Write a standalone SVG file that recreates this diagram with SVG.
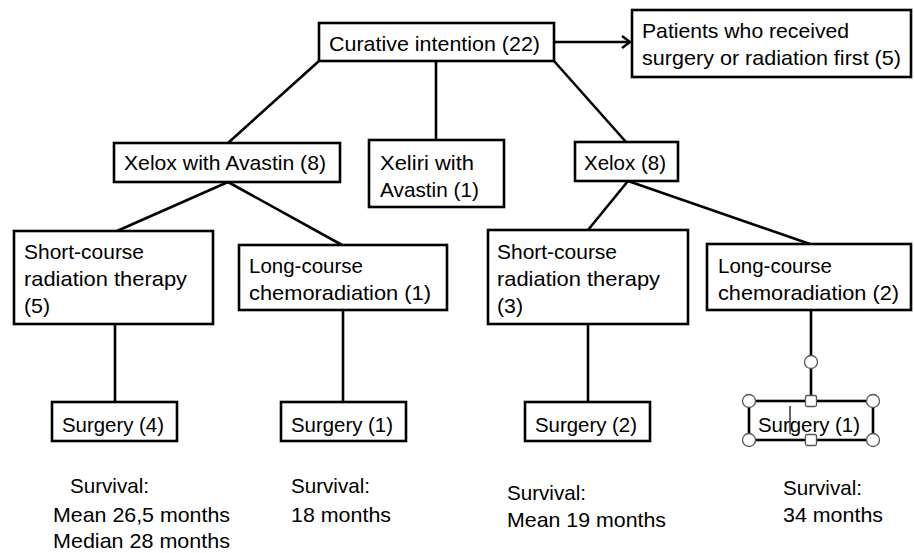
<svg xmlns="http://www.w3.org/2000/svg" width="914" height="553" viewBox="0 0 914 553">
<style>
.box{fill:#fff;stroke:#000;stroke-width:2.6}
.t{font-family:"Liberation Sans",Arial,sans-serif;font-size:21px;fill:#000}
.c{stroke:#000;stroke-width:2.6;fill:none}
.h{fill:#fff;stroke:#555;stroke-width:1.3}
</style>
<defs>
<marker id="arr" markerWidth="12" markerHeight="14" refX="9" refY="7" orient="auto" markerUnits="userSpaceOnUse">
<path d="M1,1 L9,7 L1,13" fill="none" stroke="#000" stroke-width="2.4"/>
</marker>
</defs>
<rect width="914" height="553" fill="#fff"/>
<g id="connectors">
<line class="c" x1="554" y1="42" x2="630" y2="42" marker-end="url(#arr)"/>
<line class="c" x1="319" y1="61" x2="228" y2="143"/>
<line class="c" x1="436" y1="61" x2="436" y2="140"/>
<line class="c" x1="554" y1="61" x2="626" y2="142"/>
<line class="c" x1="228" y1="182" x2="117" y2="231"/>
<line class="c" x1="228" y1="182" x2="342" y2="245"/>
<line class="c" x1="628" y1="181" x2="588" y2="230"/>
<line class="c" x1="628" y1="181" x2="810" y2="244"/>
<line class="c" x1="115" y1="324" x2="115" y2="402"/>
<line class="c" x1="343" y1="310" x2="343" y2="402"/>
<line class="c" x1="588" y1="324" x2="588" y2="402"/>
<line class="c" x1="811" y1="310" x2="811" y2="401"/>
</g>
<g id="curative">
<rect class="box" x="319" y="23" width="235" height="38"/>
<text class="t" x="329" y="51" textLength="211" lengthAdjust="spacingAndGlyphs">Curative intention (22)</text>
</g>
<g id="patients">
<rect class="box" x="632" y="10" width="279" height="67"/>
<text class="t" x="642" y="38" textLength="207" lengthAdjust="spacingAndGlyphs">Patients who received</text>
<text class="t" x="642" y="65" textLength="259" lengthAdjust="spacingAndGlyphs">surgery or radiation first (5)</text>
</g>
<g id="xelox-avastin">
<rect class="box" x="114" y="143" width="226" height="39"/>
<text class="t" x="124" y="170" textLength="202" lengthAdjust="spacingAndGlyphs">Xelox with Avastin (8)</text>
</g>
<g id="xeliri">
<rect class="box" x="369" y="140" width="135" height="67"/>
<text class="t" x="380" y="170" textLength="94" lengthAdjust="spacingAndGlyphs">Xeliri with</text>
<text class="t" x="380" y="197" textLength="99" lengthAdjust="spacingAndGlyphs">Avastin (1)</text>
</g>
<g id="xelox">
<rect class="box" x="575" y="142" width="103" height="39"/>
<text class="t" x="584" y="170" textLength="82" lengthAdjust="spacingAndGlyphs">Xelox (8)</text>
</g>
<g id="short-left">
<rect class="box" x="14" y="231" width="199" height="93"/>
<text class="t" x="24" y="259" textLength="120" lengthAdjust="spacingAndGlyphs">Short-course</text>
<text class="t" x="24" y="286" textLength="163" lengthAdjust="spacingAndGlyphs">radiation therapy</text>
<text class="t" x="24" y="313" textLength="26" lengthAdjust="spacingAndGlyphs">(5)</text>
</g>
<g id="long-left">
<rect class="box" x="239" y="245" width="208" height="65"/>
<text class="t" x="249" y="273" textLength="114" lengthAdjust="spacingAndGlyphs">Long-course</text>
<text class="t" x="249" y="300" textLength="182" lengthAdjust="spacingAndGlyphs">chemoradiation (1)</text>
</g>
<g id="short-right">
<rect class="box" x="488" y="230" width="200" height="94"/>
<text class="t" x="497" y="259" textLength="120" lengthAdjust="spacingAndGlyphs">Short-course</text>
<text class="t" x="497" y="286" textLength="163" lengthAdjust="spacingAndGlyphs">radiation therapy</text>
<text class="t" x="497" y="313" textLength="26" lengthAdjust="spacingAndGlyphs">(3)</text>
</g>
<g id="long-right">
<rect class="box" x="707" y="244" width="204" height="66"/>
<text class="t" x="718" y="273" textLength="114" lengthAdjust="spacingAndGlyphs">Long-course</text>
<text class="t" x="718" y="300" textLength="181" lengthAdjust="spacingAndGlyphs">chemoradiation (2)</text>
</g>
<g id="surgery-4">
<rect class="box" x="52" y="402" width="125" height="39"/>
<text class="t" x="62" y="432" textLength="102" lengthAdjust="spacingAndGlyphs">Surgery (4)</text>
</g>
<g id="surgery-1a">
<rect class="box" x="281" y="402" width="125" height="39"/>
<text class="t" x="291" y="432" textLength="102" lengthAdjust="spacingAndGlyphs">Surgery (1)</text>
</g>
<g id="surgery-2">
<rect class="box" x="525" y="402" width="125" height="39"/>
<text class="t" x="535" y="432" textLength="102" lengthAdjust="spacingAndGlyphs">Surgery (2)</text>
</g>
<g id="surgery-1b">
<rect class="box" x="749" y="401" width="124" height="39"/>
<text class="t" x="758" y="432" textLength="102" lengthAdjust="spacingAndGlyphs">Surgery (1)</text>
<line x1="790" y1="406" x2="790" y2="434" stroke="#000" stroke-width="1.2"/>
<circle class="h" cx="811" cy="362" r="6.5"/>
<circle class="h" cx="749" cy="401" r="6.5"/>
<circle class="h" cx="873" cy="401" r="6.5"/>
<circle class="h" cx="749" cy="440" r="6.5"/>
<circle class="h" cx="873" cy="440" r="6.5"/>
<rect class="h" x="805.5" y="395.5" width="11" height="11" rx="1.5"/>
<rect class="h" x="805.5" y="434.5" width="11" height="11" rx="1.5"/>
</g>
<g id="survival-1">
<text class="t" x="70" y="493" textLength="79" lengthAdjust="spacingAndGlyphs">Survival:</text>
<text class="t" x="53" y="522" textLength="177" lengthAdjust="spacingAndGlyphs">Mean 26,5 months</text>
<text class="t" x="53" y="548" textLength="177" lengthAdjust="spacingAndGlyphs">Median 28 months</text>
</g>
<g id="survival-2">
<text class="t" x="291" y="493" textLength="79" lengthAdjust="spacingAndGlyphs">Survival:</text>
<text class="t" x="291" y="522" textLength="100" lengthAdjust="spacingAndGlyphs">18 months</text>
</g>
<g id="survival-3">
<text class="t" x="507" y="500" textLength="79" lengthAdjust="spacingAndGlyphs">Survival:</text>
<text class="t" x="507" y="527" textLength="159" lengthAdjust="spacingAndGlyphs">Mean 19 months</text>
</g>
<g id="survival-4">
<text class="t" x="783" y="495" textLength="79" lengthAdjust="spacingAndGlyphs">Survival:</text>
<text class="t" x="783" y="522" textLength="100" lengthAdjust="spacingAndGlyphs">34 months</text>
</g>
</svg>
